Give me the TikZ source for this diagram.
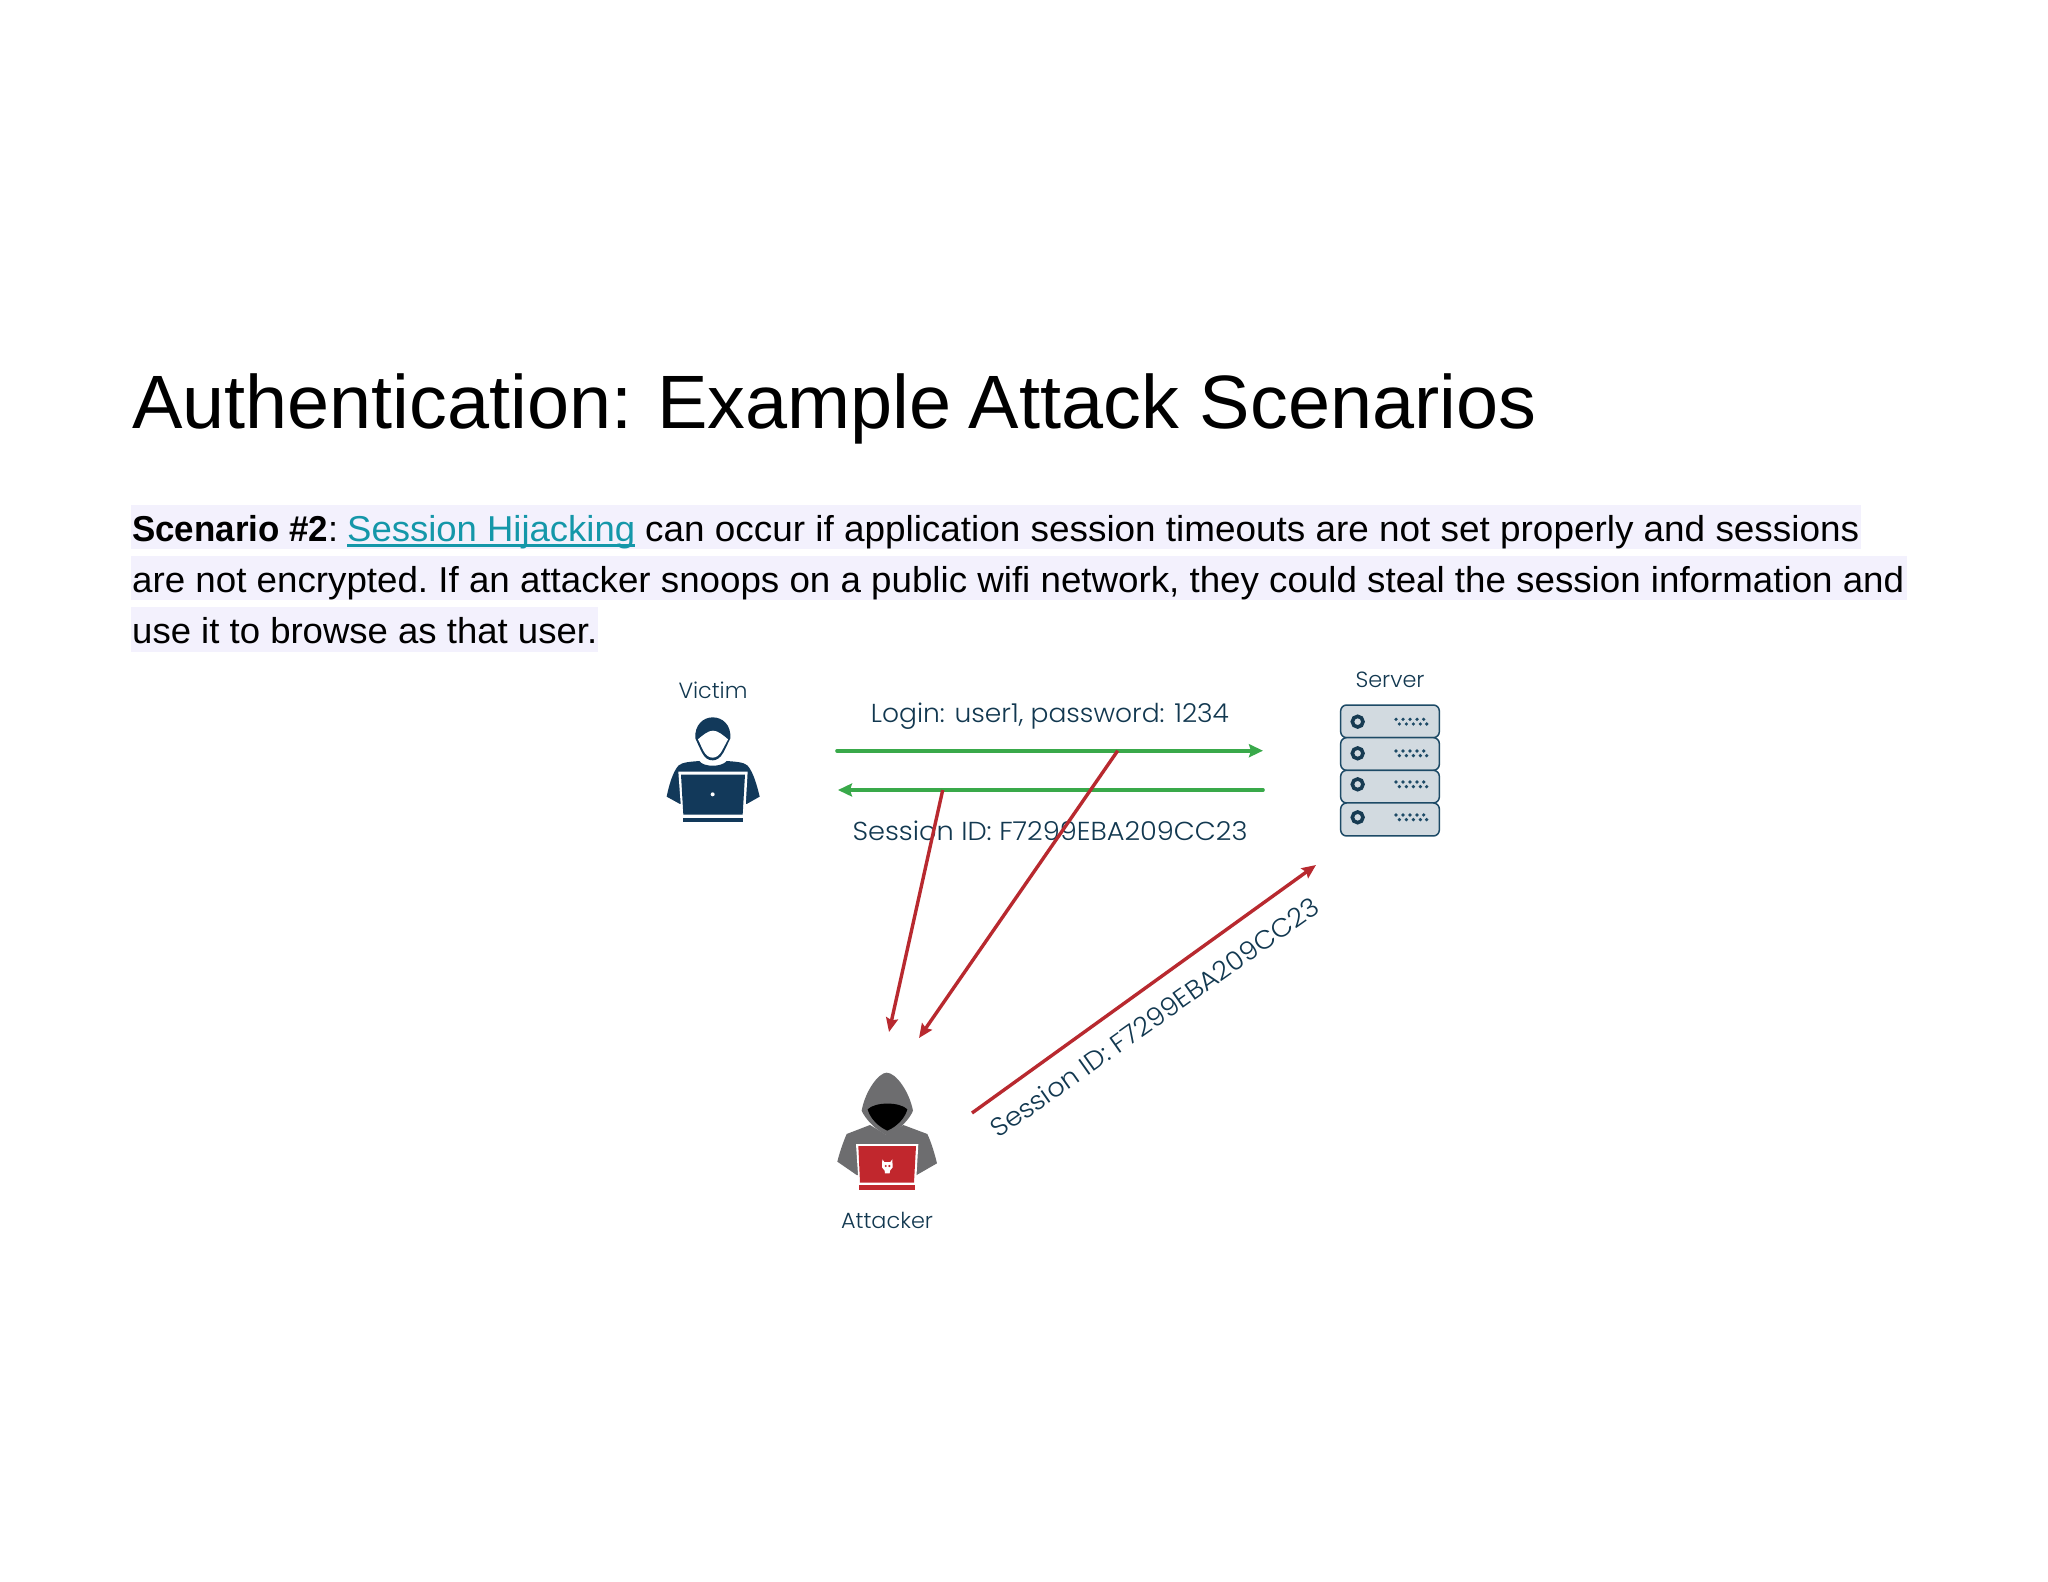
\documentclass[tikz,border=0pt]{standalone}
\usepackage{fontspec}
\usepackage{graphicx}
\setmainfont{Liberation Sans}
\newfontfamily\diagfont[UprightFont=* Light]{Poppins}
\usetikzlibrary{arrows.meta}
\definecolor{ink}{HTML}{12395A}
\definecolor{label}{HTML}{123850}
\definecolor{greenline}{HTML}{39A94A}
\definecolor{redline}{HTML}{B8292F}
\definecolor{hl}{HTML}{F3F1FD}
\definecolor{linkc}{HTML}{1497A9}
\definecolor{hood}{HTML}{6D6D6F}
\definecolor{laptopred}{HTML}{C1272D}
\definecolor{srv}{HTML}{D2DAE0}
\definecolor{srvline}{HTML}{1D4A66}
\newcommand{\ulink}[1]{\setbox0\hbox{#1}\rlap{\rule[-5pt]{\wd0}{2.4pt}}\box0}
\newcommand{\bodyfit}[2]{\resizebox{#1pt}{\height}{\fontsize{36}{43}\selectfont\frenchspacing #2}}
\newcommand{\difit}[3]{\resizebox{#1pt}{\height}{\diagfont\fontsize{#2}{30}\selectfont #3}}
\tikzset{
  textline/.style={anchor=base west,inner sep=0pt,text=black},
  hlbox/.style={fill=hl,draw=none},
  diaglabel/.style={anchor=base,inner sep=0pt,text=label},
  greenarrow/.style={draw=greenline,line width=3.6pt,line cap=round,-{Stealth[length=14pt,width=13pt,inset=2pt]}},
  redarrow/.style={draw=redline,line width=3.4pt,-{Stealth[length=14pt,width=12pt,inset=2pt]}},
}
\begin{document}
\begin{tikzpicture}[x=1pt,y=-1pt]
\useasboundingbox (0,0) rectangle (2048,1582);
\fill[white] (0,0) rectangle (2048,1582);
% highlights
\fill[hlbox] (131,505) rectangle (1861,549);
\fill[hlbox] (131,556) rectangle (1907,600);
\fill[hlbox] (131,607) rectangle (598,652);
% title
\node[textline] (title) at (132,428) {\resizebox{1404pt}{!}{\fontsize{80}{96}\selectfont\frenchspacing Authentication:\kern4pt{} Example\kern-4pt{} Attack Scenarios}};
% body
\node[textline] (l1a) at (132,541.5) {\bodyfit{196}{\textbf{Scenario \#2}}};
\node[textline] (l1b) at (328,541.5) {\fontsize{36}{43}\selectfont :};
\node[textline,text=linkc] (l1c) at (347,541.5) {\bodyfit{288}{\ulink{Session Hijacking}}};
\node[textline] (l1d) at (645,541.5) {\bodyfit{1214}{can occur if application session timeouts are not set properly and sessions}};
\node[textline] (l2) at (132,592.5) {\bodyfit{1772}{are not encrypted. If an attacker snoops on a public wifi network, they could steal the session information and}};
\node[textline] (l3) at (132,643.5) {\bodyfit{465}{use it to browse as that user.}};
% labels
\node[diaglabel] (victim) at (713,698.5) {\difit{69}{22}{Victim}};
\node[diaglabel] (server) at (1390,687) {\difit{69}{22}{Server}};
\node[diaglabel] (attacker) at (887,1228.5) {\difit{92}{22}{Attacker}};
\node[diaglabel] (login) at (1050,722.7) {\difit{358}{26}{Login: user1, password: 1234}};
\node[diaglabel] (sid) at (1050,840) {\difit{395}{26}{Session ID: F7299EBA209CC23}};
\node[diaglabel,rotate=35.2] (sidb) at (1160,1025) {\difit{395}{26}{Session ID: F7299EBA209CC23}};
% connectors
\coordinate (ga) at (837,750.7);
\coordinate (gb) at (1263,750.7);
\coordinate (gc) at (1263,790);
\coordinate (gd) at (838,790);
\coordinate (ra) at (942.7,790);
\coordinate (rb) at (889,1032);
\coordinate (rc) at (1117.7,750.7);
\coordinate (rd) at (919,1038);
\coordinate (re) at (972,1113);
\coordinate (rf) at (1316,865);
\draw[greenarrow] (ga) -- (gb);
\draw[greenarrow] (gc) -- (gd);
\draw[redarrow] (ra) -- (rb);
\draw[redarrow] (rc) -- (rd);
\draw[redarrow] (re) -- (rf);
% victim icon
\begin{scope}[shift={(640,660)},x=0.3333pt,y=-0.3333pt]
\fill[ink] (166,235) .. controls (163,195) and (190,172) .. (218,172) .. controls (248,172) and (274,195) .. (271,235)
  .. controls (264,250) and (258,262) .. (250,278) .. controls (240,295) and (230,301) .. (218,301)
  .. controls (205,301) and (195,295) .. (186,278) .. controls (178,262) and (172,248) .. (166,235) -- cycle;
\fill[white] (174,238) .. controls (188,226) and (204,212) .. (219,212) .. controls (234,212) and (250,226) .. (264,238)
  .. controls (258,250) and (252,260) .. (246,272) .. controls (238,287) and (228,293) .. (218,293)
  .. controls (208,293) and (198,287) .. (190,272) .. controls (184,260) and (180,250) .. (174,238) -- cycle;
\fill[ink] (178,303) .. controls (190,322) and (246,322) .. (260,303) .. controls (285,305) and (310,306) .. (322,316)
  .. controls (340,335) and (352,380) .. (359,410) -- (320,432) -- (120,432) -- (80,410)
  .. controls (86,380) and (98,335) .. (116,316) .. controls (128,306) and (155,305) .. (178,303) -- cycle;
\fill[white] (115,335) -- (323,335) -- (315,472) -- (125,472) -- cycle;
\fill[ink] (123,344) -- (315,344) -- (308,464) -- (130,464) -- cycle;
\fill[ink] (128,473) rectangle (310,487);
\fill[white] (218,403) circle (6);
\end{scope}
% server icon
\begin{scope}[shift={(1320,660)},x=0.3333pt,y=-0.3333pt]
\foreach \t/\b/\c in {135/233/185,233/331/280,331/429/373,429/528/472}{
  \draw[fill=srv,draw=srvline,line width=1.5pt,rounded corners=6pt] (62,\t) rectangle (358,\b);
  \draw[draw=srvline!80!black,line width=3.6pt,fill=srv] (113,\c) circle (16);
  \foreach \x in {228,249,270,291,311}{\fill[srvline] (\x,\c-7) circle (5.5);}
  \foreach \x in {238,259,280,301,320}{\fill[srvline] (\x,\c+7) circle (5.5);}
}
\end{scope}
% attacker icon
\begin{scope}[shift={(820,1060)},x=0.3333pt,y=-0.3333pt]
\fill[hood] (150,195) -- (200,225) -- (250,195) -- (322,222) .. controls (335,250) and (345,285) .. (351,310)
  -- (290,345) -- (110,345) -- (52,305) .. controls (58,280) and (68,250) .. (80,222) -- cycle;
\fill[hood] (125,152) .. controls (135,95) and (175,38) .. (200,38) .. controls (228,38) and (268,95) .. (279,152)
  .. controls (270,175) and (240,210) .. (202,226) .. controls (165,210) and (135,175) .. (125,152) -- cycle;
\fill[black] (143,148) .. controls (165,125) and (240,125) .. (262,148)
  .. controls (255,175) and (230,200) .. (202,212) .. controls (175,200) and (150,175) .. (143,148) -- cycle;
\fill[white] (108,252) -- (295,252) -- (288,373) -- (116,373) -- cycle;
\fill[laptopred] (115,258) -- (288,258) -- (282,368) -- (120,368) -- cycle;
\fill[laptopred] (118,376) rectangle (285,390);
\fill[white] (187,298) -- (193,306) -- (211,306) -- (217,298) -- (218,322) -- (210,332) -- (209,340) -- (195,340) -- (194,332) -- (186,322) -- cycle;
\fill[laptopred] (197,318) circle (3.5) (208,318) circle (3.5);
\end{scope}
\end{tikzpicture}
\end{document}
